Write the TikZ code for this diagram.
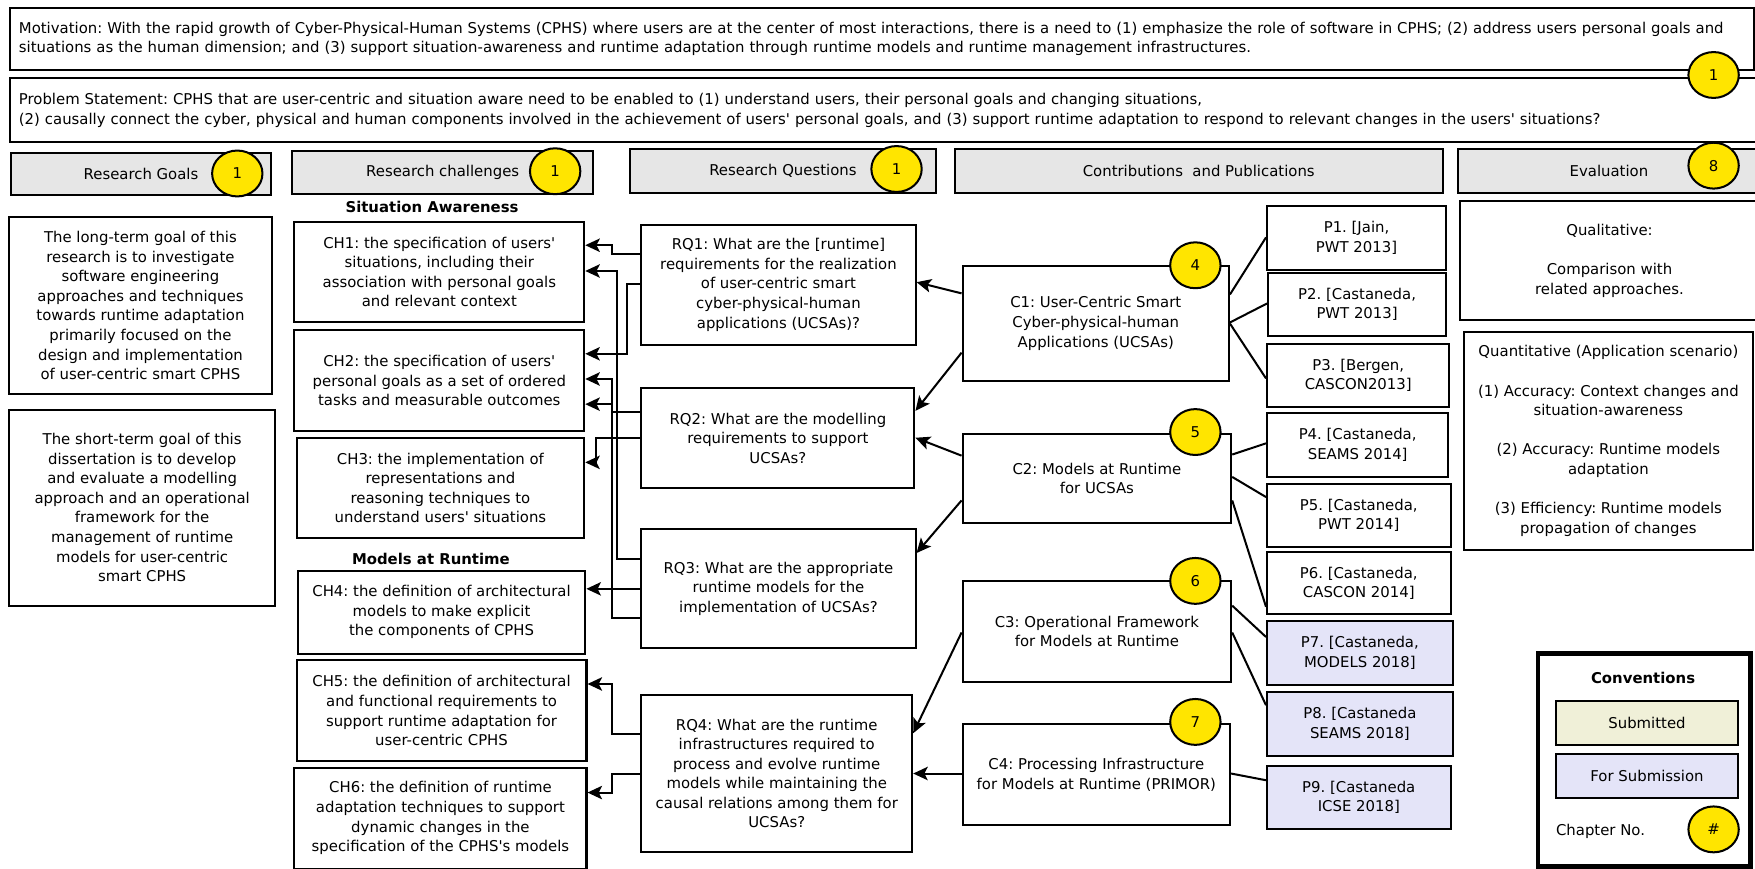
\documentclass[tikz,border=0pt]{standalone}
\usepackage{fontspec}
\setmainfont{DejaVu Sans}
\usetikzlibrary{arrows.meta,shapes.geometric}
\definecolor{hdrgray}{HTML}{E6E6E6}
\definecolor{lav}{HTML}{E4E4F8}
\definecolor{subm}{HTML}{F0F0D8}
\definecolor{chyel}{HTML}{FFE500}
\newcommand{\myfs}{\fontsize{13.3}{17.5}\selectfont}
\newcommand{\apos}{\textquotesingle}
\tikzset{
  box/.style={draw=black, line width=1.8pt, fill=white, align=center, inner sep=2pt, font=\myfs},
  hdr/.style={box, fill=hdrgray},
  pub/.style={box},
  pubn/.style={box, fill=lav},
  circ/.style={ellipse, draw=black, line width=1.8pt, fill=chyel, minimum width=45pt, minimum height=41pt, inner sep=0pt, font=\myfs},
  lbl/.style={font=\myfs\bfseries, inner sep=0pt},
  txt/.style={font=\myfs, inner sep=0pt},
  arr/.style={line width=1.8pt, -{Stealth[length=13pt,width=12pt,inset=3pt]}},
  conn/.style={line width=1.8pt}
}
\begin{document}
\frenchspacing
\begin{tikzpicture}[x=1pt,y=-1pt]
\useasboundingbox (0,0) rectangle (1568,776);
\fill[white] (0,0) rectangle (1568,776);

% top boxes
\node[box, anchor=north west, minimum width=1558pt, minimum height=56pt, text width=1542pt, align=left] (mot) at (8,6)
 {\mbox{Motivation: With the rapid growth of Cyber-Physical-Human Systems (CPHS) where users are at the center of most interactions, there is a need to (1) emphasize the role of software in CPHS; (2) address users personal goals and}\\
  \mbox{situations as the human dimension; and (3) support situation-awareness and runtime adaptation through runtime models and runtime management infrastructures.}};
\node[box, anchor=north west, minimum width=1566pt, minimum height=57pt, text width=1550pt, align=left] (prob) at (8,69)
 {\mbox{Problem Statement: CPHS that are user-centric and situation aware need to be enabled to (1) understand users, their personal goals and changing situations,}\\
  \mbox{(2) causally connect the cyber, physical and human components involved in the achievement of users\apos{} personal goals, and (3) support runtime adaptation to respond to relevant changes in the users\apos{} situations?}};

% headers
\node[hdr, minimum width=232pt, minimum height=37pt] (hRG) at (126,155.5) {Research Goals};
\node[hdr, minimum width=269pt, minimum height=38pt] (hRC) at (395.5,154) {Research challenges};
\node[hdr, minimum width=273pt, minimum height=39pt] (hRQ) at (699.5,152.5) {Research Questions};
\node[hdr, minimum width=436pt, minimum height=39pt] (hCP) at (1071,152.5) {Contributions\ \ and Publications};
\node[hdr, minimum width=269pt, minimum height=39pt] (hEV) at (1437.5,152.5) {Evaluation};

% goals
\node[box, minimum width=235pt, minimum height=158pt] (LT) at (125.5,273)
 {The long-term goal of this\\research is to investigate\\software engineering\\approaches and techniques\\towards runtime adaptation\\primarily focused on the\\design and implementation\\of user-centric smart CPHS};
\node[box, minimum width=238pt, minimum height=175pt] (ST) at (127,453.5)
 {The short-term goal of this\\dissertation is to develop\\and evaluate a modelling\\approach and an operational\\framework for the\\management of runtime\\models for user-centric\\smart CPHS};

% challenges
\node[lbl] (lSA) at (386,185) {Situation Awareness};
\node[lbl] (lMR) at (385,499) {Models at Runtime};
\node[box, minimum width=259pt, minimum height=90pt] (CH1) at (392.5,243)
 {CH1: the specification of users\apos\\situations, including their\\association with personal goals\\and relevant context};
\node[box, minimum width=259pt, minimum height=90pt] (CH2) at (392.5,340)
 {CH2: the specification of users\apos\\personal goals as a set of ordered\\tasks and measurable outcomes};
\node[box, minimum width=257pt, minimum height=90pt] (CH3) at (393.5,436)
 {CH3: the implementation of\\representations and\\reasoning techniques to\\understand users\apos{} situations};
\node[box, minimum width=257pt, minimum height=74pt] (CH4) at (394.5,547)
 {CH4: the definition of architectural\\models to make explicit\\the components of CPHS};
\node[box, minimum width=259pt, minimum height=90pt] (CH5) at (394.5,635)
 {CH5: the definition of architectural\\and functional requirements to\\support runtime adaptation for\\user-centric CPHS};
\node[box, minimum width=261pt, minimum height=90pt] (CH6) at (393.5,731)
 {CH6: the definition of runtime\\adaptation techniques to support\\dynamic changes in the\\specification of the CPHS\apos{}s models};

% research questions
\node[box, minimum width=245pt, minimum height=107pt] (RQ1) at (695.5,254.5)
 {RQ1: What are the [runtime]\\requirements for the realization\\of user-centric smart\\cyber-physical-human\\applications (UCSAs)?};
\node[box, minimum width=244pt, minimum height=89pt] (RQ2) at (695,391.5)
 {RQ2: What are the modelling\\requirements to support\\UCSAs?};
\node[box, minimum width=245pt, minimum height=106pt] (RQ3) at (695.5,526)
 {RQ3: What are the appropriate\\runtime models for the\\implementation of UCSAs?};
\node[box, minimum width=242pt, minimum height=140pt] (RQ4) at (694,691)
 {RQ4: What are the runtime\\infrastructures required to\\process and evolve runtime\\models while maintaining the\\causal relations among them for\\UCSAs?};

% contributions
\node[box, minimum width=238pt, minimum height=102pt] (C1) at (979,289)
 {C1: User-Centric Smart\\Cyber-physical-human\\Applications (UCSAs)};
\node[box, minimum width=240pt, minimum height=79pt] (C2) at (980,427.5)
 {C2: Models at Runtime\\for UCSAs};
\node[box, minimum width=240pt, minimum height=90pt] (C3) at (980,564)
 {C3: Operational Framework\\for Models at Runtime};
\node[box, minimum width=239pt, minimum height=90pt] (C4) at (979.5,692)
 {C4: Processing Infrastructure\\for Models at Runtime (PRIMOR)};

% publications
\node[pub, minimum width=160pt, minimum height=57pt] (P1) at (1212,212.5) {P1. [Jain,\\PWT 2013]};
\node[pub, minimum width=159pt, minimum height=56pt] (P2) at (1212.5,272) {P2. [Castaneda,\\PWT 2013]};
\node[pub, minimum width=163pt, minimum height=57pt] (P3) at (1213.5,335.5) {P3. [Bergen,\\CASCON2013]};
\node[pub, minimum width=162pt, minimum height=57pt] (P4) at (1213,397.5) {P4. [Castaneda,\\SEAMS 2014]};
\node[pub, minimum width=164pt, minimum height=57pt] (P5) at (1214,460.5) {P5. [Castaneda,\\PWT 2014]};
\node[pub, minimum width=164pt, minimum height=56pt] (P6) at (1214,521) {P6. [Castaneda,\\CASCON 2014]};
\node[pubn, minimum width=166pt, minimum height=57pt] (P7) at (1215,583.5) {P7. [Castaneda,\\MODELS 2018]};
\node[pubn, minimum width=166pt, minimum height=57pt] (P8) at (1215,646.5) {P8. [Castaneda\\SEAMS 2018]};
\node[pubn, minimum width=164pt, minimum height=57pt] (P9) at (1214,712.5) {P9. [Castaneda\\ICSE 2018]};

% evaluation
\node[box, minimum width=268pt, minimum height=106pt] (QL) at (1438,233)
 {Qualitative:\\[17.5pt]Comparison with\\related approaches.};
\node[box, minimum width=258pt, minimum height=194pt] (QN) at (1437,394)
 {Quantitative (Application scenario)\\[17.5pt](1) Accuracy: Context changes and\\situation-awareness\\[17.5pt](2) Accuracy: Runtime models\\adaptation\\[17.5pt](3) Efficiency: Runtime models\\propagation of changes};

% conventions
\node[box, line width=4pt, minimum width=190pt, minimum height=190pt] (CV) at (1469,679) {};
\node[lbl] (lCV) at (1468,606) {Conventions};
\node[box, fill=subm, minimum width=163pt, minimum height=40pt] (SUB) at (1471.5,646) {Submitted};
\node[box, fill=lav, minimum width=163pt, minimum height=39pt] (FSUB) at (1471.5,693.5) {For Submission};
\node[txt] (lCH) at (1430,743) {Chapter No.};

% RQ -> CH connectors
\draw[arr] ([yshift=-27pt]RQ1.north west) -- ++(-25,0) |- ([yshift=-22pt]CH1.north east);
\draw[arr] ([yshift=-54pt]RQ1.north west) -- ++(-12,0) |- ([yshift=-22pt]CH2.north east);
\draw[arr] ([yshift=-22pt]RQ2.north west) -- ++(-25,0) |- ([yshift=-67pt]CH2.north east);
\draw[arr] ([yshift=-45pt]RQ2.north west) -- ++(-40,0) |- ([yshift=-23pt]CH3.north east);
\draw[arr] ([yshift=-27pt]RQ3.north west) -- ++(-21,0) |- ([yshift=-45pt]CH1.north east);
\draw[arr] ([yshift=-54pt]RQ3.north west) -- ([yshift=-17pt]CH4.north east);
\draw[arr] ([yshift=-80pt]RQ3.north west) -- ++(-25,0) |- ([yshift=-44.5pt]CH2.north east);
\draw[arr] ([yshift=-36pt]RQ4.north west) -- ++(-25,0) |- ([yshift=-22pt]CH5.north east);
\draw[arr] ([yshift=-71pt]RQ4.north west) -- ++(-25,0) |- ([yshift=-23pt]CH6.north east);

% C -> RQ connectors
\draw[arr] ([yshift=-25pt]C1.north west) -- ([yshift=-52pt]RQ1.north east);
\draw[arr] ([yshift=-78pt]C1.north west) -- ([yshift=-21pt]RQ2.north east);
\draw[arr] ([yshift=-20pt]C2.north west) -- ([yshift=-45pt]RQ2.north east);
\draw[arr] ([yshift=-60pt]C2.north west) -- ([yshift=-22pt]RQ3.north east);
\draw[arr] ([yshift=-47pt]C3.north west) -- ([yshift=-35pt]RQ4.north east);
\draw[arr] ([yshift=-45pt]C4.north west) -- ([yshift=-71pt]RQ4.north east);

% C -> P connectors
\draw[conn] ([yshift=-26pt]C1.north east) -- ([yshift=-29pt]P1.north west);
\draw[conn] ([yshift=-51pt]C1.north east) -- ([yshift=-28pt]P2.north west);
\draw[conn] ([yshift=-52pt]C1.north east) -- ([yshift=-32pt]P3.north west);
\draw[conn] ([yshift=-19pt]C2.north east) -- ([yshift=-28pt]P4.north west);
\draw[conn] ([yshift=-39pt]C2.north east) -- ([yshift=-13pt]P5.north west);
\draw[conn] ([yshift=-60pt]C2.north east) -- ([yshift=-50pt]P6.north west);
\draw[conn] ([yshift=-23pt]C3.north east) -- ([yshift=-15pt]P7.north west);
\draw[conn] ([yshift=-47pt]C3.north east) -- ([yshift=-13pt]P8.north west);
\draw[conn] ([yshift=-45pt]C4.north east) -- ([yshift=-14pt]P9.north west);

% chapter circles
\node[circ] (k0) at (1531,67) {1};
\node[circ] (k1) at (212,155) {1};
\node[circ] (k2) at (496,153) {1};
\node[circ] (k3) at (801,151) {1};
\node[circ] (k8) at (1531,148) {8};
\node[circ] (k4) at (1068,237) {4};
\node[circ] (k5) at (1068,386) {5};
\node[circ] (k6) at (1068,519) {6};
\node[circ] (k7) at (1068,645) {7};
\node[circ] (kc) at (1531,741) {\#};
\end{tikzpicture}
\end{document}
